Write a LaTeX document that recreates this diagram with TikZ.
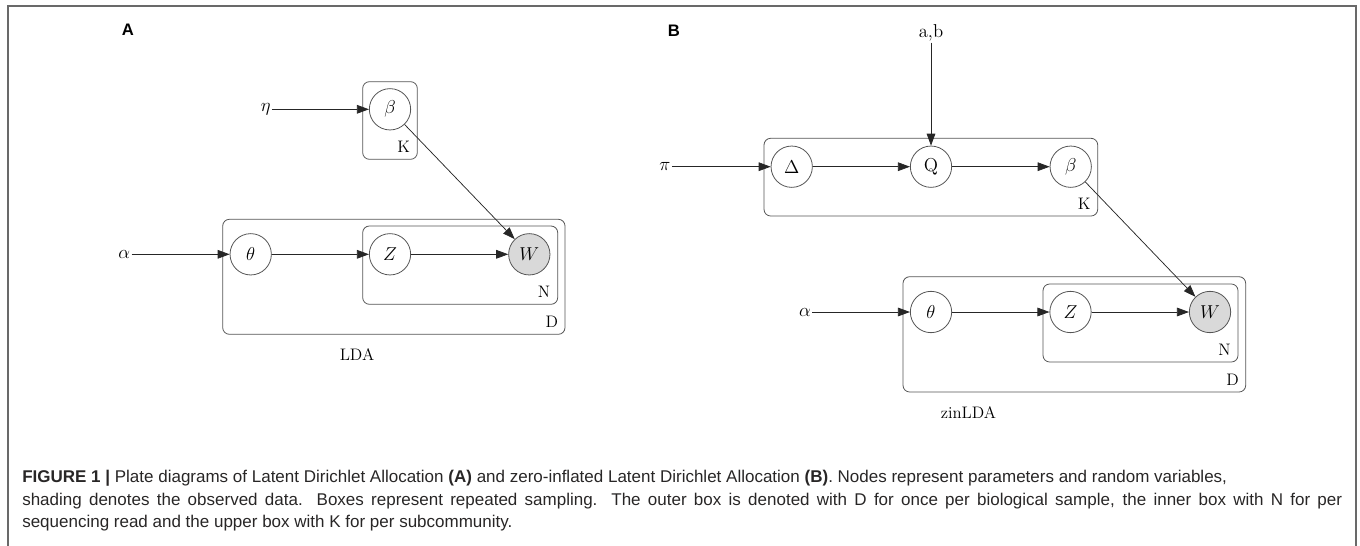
\RequirePackage{fix-cm}
\documentclass[tikz,border=0pt]{standalone}
\usepackage{fontspec}
\newfontfamily\capfont{Liberation Sans}
\usetikzlibrary{arrows.meta,fit}
\definecolor{framegray}{RGB}{105,105,105}
\definecolor{linegray}{RGB}{85,85,85}
\definecolor{obsfill}{RGB}{217,217,217}
\definecolor{captext}{RGB}{40,38,38}

\tikzset{
  rv/.style={circle, draw=linegray, line width=0.6pt, minimum size=31pt, inner sep=0pt,
             font={\fontsize{14pt}{16pt}\selectfont}},
  obs/.style={rv, fill=obsfill},
  plate/.style={draw=linegray, line width=0.6pt, rounded corners=5pt, inner sep=0pt},
  platelabel/.style={font={\fontsize{12.5pt}{14pt}\selectfont}, inner sep=0pt},
  hyper/.style={font={\fontsize{14pt}{16pt}\selectfont}, inner sep=0.8pt},
  title/.style={font={\fontsize{12.5pt}{14pt}\selectfont}, inner sep=0pt},
  edge/.style={draw=black!85, line width=0.55pt, -{Triangle[length=9pt,width=6.5pt]}},
  panel/.style={font={\capfont\bfseries\fontsize{12.5pt}{14pt}\selectfont}, inner sep=0pt},
  capline/.style={font={\capfont\fontsize{12.75pt}{15pt}\selectfont}, text=captext, anchor=base west, inner sep=0pt},
}

\begin{document}
\begin{tikzpicture}[x=0.75pt,y=-0.75pt]
\useasboundingbox (0,0) rectangle (1360,546);

% figure frame (open at the bottom)
\draw[framegray, line width=1.3pt] (8,546) -- (8,6) -- (1355.7,6) -- (1355.7,546);

% panel letters
\node[panel] (labA) at (128,30) {A};
\node[panel] (labB) at (674,31) {B};

% ---------------- LDA ----------------
\node[hyper] (etaA) at (265.7,109.3) {$\eta$};
\node[rv] (betaA) at (390,109.3) {$\beta$};
\node[hyper] (alphaA) at (124.3,254.3) {$\alpha$};
\node[rv] (thetaA) at (250.7,254.3) {$\theta$};
\node[rv] (ZA) at (390,254.3) {$Z$};
\node[obs] (WA) at (529.3,254.3) {$W$};

\node[plate, fit={(362.7,81.7) (417.3,159.3)}] (KA) {};
\node[plate, fit={(222.7,219.3) (565,334.3)}] (DA) {};
\node[plate, fit={(362.7,226) (557.7,304.3)}] (NA) {};
\node[platelabel] (KlabA) at ([shift={(-14,-12.5)}]KA.south east) {K};
\node[platelabel] (NlabA) at ([shift={(-14,-13)}]NA.south east) {N};
\node[platelabel] (DlabA) at ([shift={(-13.5,-13)}]DA.south east) {D};

\draw[edge] (etaA) -- (betaA);
\draw[edge] (alphaA) -- (thetaA);
\draw[edge] (thetaA) -- (ZA);
\draw[edge] (ZA) -- (WA);
\draw[edge] (betaA) -- (WA);

\node[title] (ldaname) at (357,355) {LDA};

% ---------------- zinLDA ----------------
\node[hyper] (ab) at (931,33) {a,b};
\node[hyper] (piB) at (665,166.7) {$\pi$};
\node[rv] (DeltaB) at (791.7,166.7) {$\Delta$};
\node[rv] (QB) at (931,166.7) {Q};
\node[rv] (betaB) at (1070.7,166.7) {$\beta$};
\node[hyper] (alphaB) at (805,312) {$\alpha$};
\node[rv] (thetaB) at (931,312) {$\theta$};
\node[rv] (ZB) at (1070.5,312) {$Z$};
\node[obs] (WB) at (1210,312) {$W$};

\node[plate, fit={(764,138.3) (1097.7,216)}] (KB) {};
\node[plate, fit={(903,276.7) (1245.7,392)}] (DB) {};
\node[plate, fit={(1043,284) (1238,362)}] (NB) {};
\node[platelabel] (KlabB) at ([shift={(-14,-12.5)}]KB.south east) {K};
\node[platelabel] (NlabB) at ([shift={(-14,-13)}]NB.south east) {N};
\node[platelabel] (DlabB) at ([shift={(-13.5,-13)}]DB.south east) {D};

\draw[edge] (ab) -- (QB);
\draw[edge] (piB) -- (DeltaB);
\draw[edge] (DeltaB) -- (QB);
\draw[edge] (QB) -- (betaB);
\draw[edge] (betaB) -- (WB);
\draw[edge] (alphaB) -- (thetaB);
\draw[edge] (thetaB) -- (ZB);
\draw[edge] (ZB) -- (WB);

\node[title] (zinname) at (968.5,413) {zinLDA};

% ---------------- caption ----------------
\node[capline] (cap1) at (22,482.5) {\textbf{FIGURE 1 |} Plate diagrams of Latent Dirichlet Allocation \textbf{(A)} and zero-inflated Latent Dirichlet Allocation \textbf{(B)}. Nodes represent parameters and random variables,};
\node[capline] (cap2) at (22,505) {\hbox to 990pt{shading denotes the observed data. Boxes represent repeated sampling. The outer box is denoted with D for once per biological sample, the inner box with N for per}};
\node[capline] (cap3) at (22,527.5) {sequencing read and the upper box with K for per subcommunity.};
\end{tikzpicture}
\end{document}
